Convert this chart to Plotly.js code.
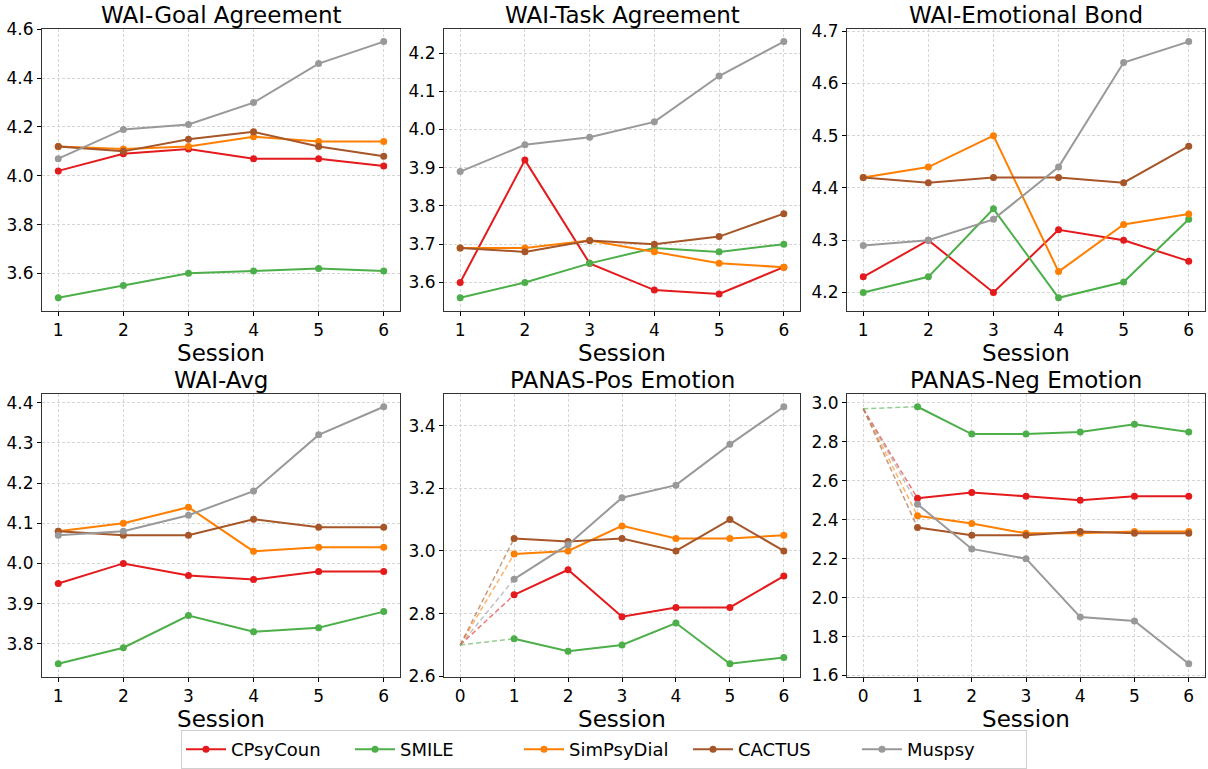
<!DOCTYPE html>
<html>
<head>
<meta charset="utf-8">
<script src="https://cdn.plot.ly/plotly-3.0.1.min.js"></script>
<style>html,body{margin:0;padding:0;background:#fff}#chart{width:1208px;height:769px}</style>
</head>
<body>
<div id="chart"></div>
<script>
// ---- data ----
const seriesNames = ["CPsyCoun", "SMILE", "SimPsyDial", "CACTUS", "Muspsy"];
const seriesColors = ["#e41a1c", "#4daf4a", "#ff7f00", "#a65628", "#999999"];
const sessions = [1, 2, 3, 4, 5, 6];
const panelTitles = ["WAI-Goal Agreement", "WAI-Task Agreement", "WAI-Emotional Bond", "WAI-Avg", "PANAS-Pos Emotion", "PANAS-Neg Emotion"];

const goalAgreement = [
  [4.02, 4.09, 4.11, 4.07, 4.07, 4.04],
  [3.50, 3.55, 3.60, 3.61, 3.62, 3.61],
  [4.12, 4.11, 4.12, 4.16, 4.14, 4.14],
  [4.12, 4.10, 4.15, 4.18, 4.12, 4.08],
  [4.07, 4.19, 4.21, 4.30, 4.46, 4.55]
];
const taskAgreement = [
  [3.60, 3.92, 3.65, 3.58, 3.57, 3.64],
  [3.56, 3.60, 3.65, 3.69, 3.68, 3.70],
  [3.69, 3.69, 3.71, 3.68, 3.65, 3.64],
  [3.69, 3.68, 3.71, 3.70, 3.72, 3.78],
  [3.89, 3.96, 3.98, 4.02, 4.14, 4.23]
];
const emotionalBond = [
  [4.23, 4.30, 4.20, 4.32, 4.30, 4.26],
  [4.20, 4.23, 4.36, 4.19, 4.22, 4.34],
  [4.42, 4.44, 4.50, 4.24, 4.33, 4.35],
  [4.42, 4.41, 4.42, 4.42, 4.41, 4.48],
  [4.29, 4.30, 4.34, 4.44, 4.64, 4.68]
];
const waiAvg = [
  [3.95, 4.00, 3.97, 3.96, 3.98, 3.98],
  [3.75, 3.79, 3.87, 3.83, 3.84, 3.88],
  [4.08, 4.10, 4.14, 4.03, 4.04, 4.04],
  [4.08, 4.07, 4.07, 4.11, 4.09, 4.09],
  [4.07, 4.08, 4.12, 4.18, 4.32, 4.39]
];
const panasPos = [
  [2.86, 2.94, 2.79, 2.82, 2.82, 2.92],
  [2.72, 2.68, 2.70, 2.77, 2.64, 2.66],
  [2.99, 3.00, 3.08, 3.04, 3.04, 3.05],
  [3.04, 3.03, 3.04, 3.00, 3.10, 3.00],
  [2.91, 3.02, 3.17, 3.21, 3.34, 3.46]
];
const panasNeg = [
  [2.51, 2.54, 2.52, 2.50, 2.52, 2.52],
  [2.98, 2.84, 2.84, 2.85, 2.89, 2.85],
  [2.42, 2.38, 2.33, 2.33, 2.34, 2.34],
  [2.36, 2.32, 2.32, 2.34, 2.33, 2.33],
  [2.48, 2.25, 2.20, 1.90, 1.88, 1.66]
];
const panasPosBaseline = 2.70;
const panasNegBaseline = 2.97;

// ---- layout geometry ----
const W = 1208, H = 769;
const panels = [goalAgreement, taskAgreement, emotionalBond, waiAvg, panasPos, panasNeg];
const baselines = [null, null, null, null, panasPosBaseline, panasNegBaseline];
const xDomPx = [[42, 400], [444, 800], [847, 1205]];
const yDomPx = [[29, 313], [397, 682]];
const yRanges = [[3.4475, 4.6025], [3.5265, 4.2635], [4.1655, 4.7045], [3.718, 4.422], [2.599, 3.501], [1.594, 3.046]];
const yTicks = [[3.6, 4.6, 0.2], [3.6, 4.2, 0.1], [4.2, 4.7, 0.1], [3.8, 4.4, 0.1], [2.6, 3.4, 0.2], [1.6, 3.0, 0.2]];

const FONT = "DejaVu Sans, sans-serif";
const GRID = {showgrid: true, gridcolor: "#d6d6d6", griddash: "3px,2px", gridwidth: 1, zeroline: false};
const traces = [];
const layout = {
  width: W, height: H,
  margin: {l: 0, r: 0, t: 0, b: 0},
  paper_bgcolor: "#fff", plot_bgcolor: "#fff",
  font: {family: FONT, color: "#000", size: 16},
  showlegend: true,
  legend: {
    orientation: "h", x: 0.5, xanchor: "center", y: 1 - 736 / H, yanchor: "top",
    bordercolor: "#d0d0d0", borderwidth: 1, bgcolor: "#fff",
    font: {family: FONT, size: 18, color: "#000"}, itemwidth: 40,
    entrywidth: 114, entrywidthmode: "pixels"
  },
  annotations: []
};

panels.forEach((data, p) => {
  const row = Math.floor(p / 3), col = p % 3;
  const ax = p === 0 ? "" : String(p + 1);
  const hasBase = baselines[p] !== null;
  const xd = xDomPx[col], yd = yDomPx[row];
  const tk = yTicks[p];
  const tv = [];
  for (let v = tk[0]; v <= tk[1] + 1e-9; v += tk[2]) tv.push(+v.toFixed(2));
  const xt = hasBase ? [0, 1, 2, 3, 4, 5, 6] : sessions;
  layout["xaxis" + ax] = Object.assign({
    domain: [xd[0] / W, xd[1] / W], anchor: "y" + ax,
    range: hasBase ? [-0.3, 6.3] : [0.75, 6.25],
    tickvals: xt, ticks: "outside", ticklen: 4, tickcolor: "#000",
    showline: true, mirror: true, linecolor: "#333", linewidth: 1,
    tickfont: {family: FONT, size: 17},
    title: {text: "Session", font: {family: FONT, size: 23}, standoff: 0}
  }, GRID);
  layout["yaxis" + ax] = Object.assign({
    domain: [1 - yd[1] / H, 1 - yd[0] / H], anchor: "x" + ax,
    range: yRanges[p], tickvals: tv, tickformat: ".1f",
    ticks: "outside", ticklen: 4, tickcolor: "#000",
    showline: true, mirror: true, linecolor: "#333", linewidth: 1,
    tickfont: {family: FONT, size: 17}
  }, GRID);
  layout.annotations.push({
    text: panelTitles[p], xref: "paper", yref: "paper",
    x: (xd[0] + xd[1]) / 2 / W, y: 1 - yd[0] / H, xanchor: "center", yanchor: "bottom",
    showarrow: false, font: {family: FONT, size: 23, color: "#000"}, yshift: -1
  });
  data.forEach((vals, s) => {
    if (hasBase) {
      traces.push({
        type: "scatter", mode: "lines", x: [0, sessions[0]], y: [baselines[p], vals[0]],
        xaxis: "x" + ax, yaxis: "y" + ax, showlegend: false, hoverinfo: "skip",
        opacity: 0.6, line: {color: seriesColors[s], width: 1.5, dash: "5px,3px"}
      });
    }
  });
  data.forEach((vals, s) => {
    traces.push({
      type: "scatter", mode: "lines+markers", x: sessions, y: vals,
      xaxis: "x" + ax, yaxis: "y" + ax, name: seriesNames[s],
      legendgroup: seriesNames[s], showlegend: p === 0,
      line: {color: seriesColors[s], width: 2},
      marker: {color: seriesColors[s], size: 7}
    });
  });
});

Plotly.newPlot("chart", traces, layout, {displayModeBar: false, staticPlot: true});
</script>
</body>
</html>
